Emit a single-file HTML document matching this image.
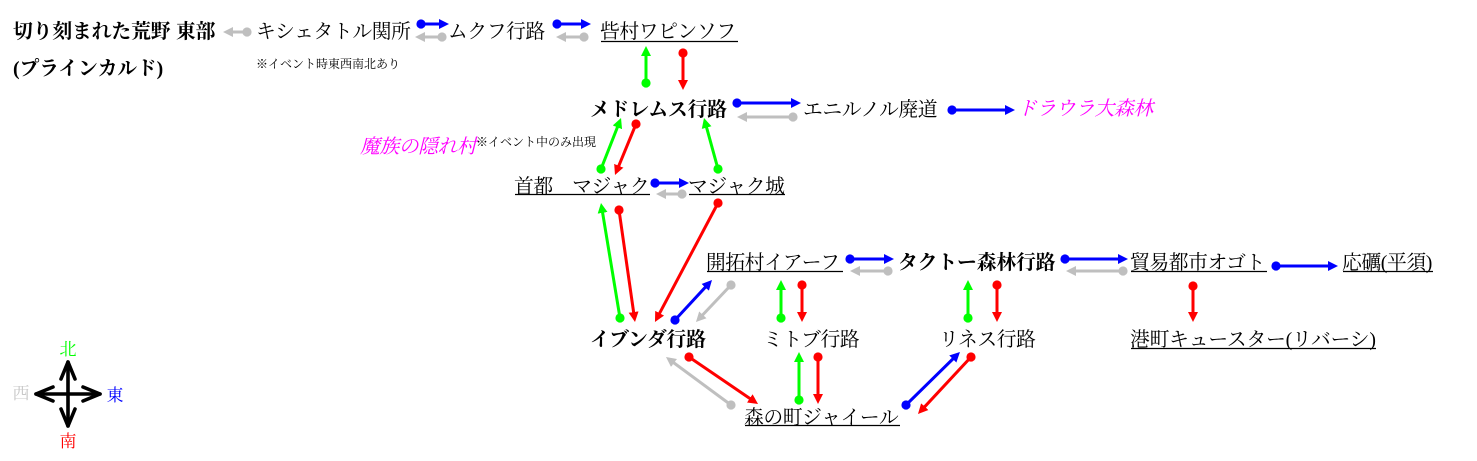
<!DOCTYPE html>
<html lang="ja"><head><meta charset="utf-8"><title>プラインカルド 東部</title>
<style>
html,body{margin:0;padding:0;background:#fff;width:1477px;height:461px;overflow:hidden}
svg{display:block}
text{font-family:"Liberation Serif","Noto Serif CJK SC","IPAGothic",serif;font-size:19.8px;letter-spacing:-.4px;fill:#000}
text.b{font-weight:bold;letter-spacing:-.1px}
text.s{font-size:12px;letter-spacing:0}
text.m{fill:#f0f;font-style:italic}
text.l{font-size:17px;letter-spacing:0}
.u line{stroke:#000;stroke-width:1.2}
line.B{stroke:#00f;marker-start:url(#cB);marker-end:url(#aB)}
line.G{stroke:#0f0;marker-start:url(#cG);marker-end:url(#aG)}
line.R{stroke:#f00;marker-start:url(#cR);marker-end:url(#aR)}
line.W{stroke:#bfbfbf;marker-start:url(#cW);marker-end:url(#aW)}
.ar line{stroke-width:3}
</style></head><body>
<svg width="1477" height="461" viewBox="0 0 1477 461" xmlns="http://www.w3.org/2000/svg">
<defs>
<marker id="aB" markerUnits="userSpaceOnUse" markerWidth="10" markerHeight="10" refX="5" refY="5" orient="auto"><path d="M0,0L10,5L0,10z" fill="#00f"/></marker>
<marker id="aG" markerUnits="userSpaceOnUse" markerWidth="10" markerHeight="10" refX="5" refY="5" orient="auto"><path d="M0,0L10,5L0,10z" fill="#0f0"/></marker>
<marker id="aR" markerUnits="userSpaceOnUse" markerWidth="10" markerHeight="10" refX="5" refY="5" orient="auto"><path d="M0,0L10,5L0,10z" fill="#f00"/></marker>
<marker id="aW" markerUnits="userSpaceOnUse" markerWidth="10" markerHeight="10" refX="5" refY="5" orient="auto"><path d="M0,0L10,5L0,10z" fill="#bfbfbf"/></marker>
<marker id="cB" markerUnits="userSpaceOnUse" markerWidth="10" markerHeight="10" refX="5" refY="5"><circle cx="5" cy="5" r="4.6" fill="#00f"/></marker>
<marker id="cG" markerUnits="userSpaceOnUse" markerWidth="10" markerHeight="10" refX="5" refY="5"><circle cx="5" cy="5" r="4.6" fill="#0f0"/></marker>
<marker id="cR" markerUnits="userSpaceOnUse" markerWidth="10" markerHeight="10" refX="5" refY="5"><circle cx="5" cy="5" r="4.6" fill="#f00"/></marker>
<marker id="cW" markerUnits="userSpaceOnUse" markerWidth="10" markerHeight="10" refX="5" refY="5"><circle cx="5" cy="5" r="4.6" fill="#bfbfbf"/></marker>
</defs>

<!-- labels -->
<g transform="translate(-1,0)">
<text class="b" x="14" y="38">切り刻まれた荒野</text>
<text class="b" x="177" y="38">東部</text>
<text class="b" x="14" y="75">(プラインカルド)</text>
<text x="257" y="38">キシェタトル関所</text>
<text class="s" x="257" y="68">※イベント時東西南北あり</text>
<text x="449" y="38">ムクフ行路</text>
<text x="601" y="38">呰村ワピンソフ</text>
<text class="b" x="591" y="116">メドレムス行路</text>
<text x="804" y="116">エニルノル廃道</text>
<text class="m" x="1018" y="115">ドラウラ大森林</text>
<text class="m" x="361" y="153">魔族の隠れ村</text>
<text class="s" x="477" y="146">※イベント中のみ出現</text>
<text x="515" y="193">首都　マジャク</text>
<text x="689" y="193">マジャク城</text>
<text x="707" y="269">開拓村イアーフ</text>
<text class="b" x="899" y="269">タクトー森林行路</text>
<text x="1131" y="269">貿易都市オゴト</text>
<text x="1343" y="269">応礪(平須)</text>
<text class="b" x="591" y="346">イブンダ行路</text>
<text x="764" y="346">ミトブ行路</text>
<text x="940" y="346">リネス行路</text>
<text x="1131" y="346" style="letter-spacing:-.2px">港町キュースター(リバーシ)</text>
<text x="745" y="424">森の町ジャイール</text>
</g>

<!-- underlines -->
<g class="u">
<line x1="601" y1="41.5" x2="738" y2="41.5"/>
<line x1="515" y1="194.5" x2="650" y2="194.5"/>
<line x1="689" y1="194.5" x2="785" y2="194.5"/>
<line x1="707" y1="271.5" x2="843" y2="271.5"/>
<line x1="1131" y1="271.5" x2="1267" y2="271.5"/>
<line x1="1343" y1="271.5" x2="1433" y2="271.5"/>
<line x1="1131" y1="348.5" x2="1376" y2="348.5"/>
<line x1="745" y1="425.5" x2="900" y2="425.5"/>
</g>

<!-- connectors -->
<g class="ar">
<line class="W" x1="247" y1="32" x2="228" y2="32"/>
<line class="B" x1="421" y1="24" x2="444" y2="24"/>
<line class="W" x1="442" y1="37" x2="420" y2="37"/>
<line class="B" x1="557" y1="24" x2="586" y2="24"/>
<line class="W" x1="584" y1="37" x2="561" y2="37"/>
<line class="G" x1="646" y1="83" x2="646" y2="51"/>
<line class="R" x1="683" y1="53" x2="683" y2="85"/>
<line class="B" x1="737" y1="103" x2="796" y2="103"/>
<line class="W" x1="793" y1="117" x2="742" y2="117"/>
<line class="B" x1="952" y1="110" x2="1010" y2="110"/>
<line class="G" x1="601" y1="169" x2="619.2" y2="122.7"/>
<line class="R" x1="636" y1="124" x2="616.9" y2="170.4"/>
<line class="G" x1="718" y1="169" x2="705.3" y2="122.8"/>
<line class="B" x1="655" y1="183" x2="684" y2="183"/>
<line class="W" x1="682" y1="194" x2="661" y2="194"/>
<line class="G" x1="620" y1="318" x2="601.8" y2="207.9"/>
<line class="R" x1="619" y1="210" x2="634.3" y2="317"/>
<line class="R" x1="718" y1="203" x2="657.3" y2="317.6"/>
<line class="B" x1="675" y1="320" x2="708.6" y2="283.7"/>
<line class="W" x1="731" y1="285" x2="699.4" y2="318.4"/>
<line class="G" x1="781" y1="318" x2="781" y2="285"/>
<line class="R" x1="802" y1="285" x2="802" y2="317"/>
<line class="G" x1="799" y1="400" x2="799" y2="357"/>
<line class="R" x1="818" y1="357" x2="818" y2="399"/>
<line class="R" x1="689" y1="357" x2="753.9" y2="401.2"/>
<line class="W" x1="731" y1="405" x2="670" y2="360"/>
<line class="B" x1="906" y1="405" x2="956.4" y2="355.5"/>
<line class="R" x1="971" y1="357" x2="921.4" y2="410.3"/>
<line class="G" x1="968" y1="318" x2="968" y2="285"/>
<line class="R" x1="997" y1="285" x2="997" y2="317"/>
<line class="B" x1="850" y1="259" x2="889" y2="259"/>
<line class="W" x1="888" y1="271" x2="855" y2="271"/>
<line class="B" x1="1065" y1="259" x2="1123" y2="259"/>
<line class="W" x1="1123" y1="271" x2="1071" y2="271"/>
<line class="B" x1="1276" y1="266" x2="1333" y2="266"/>
<line class="R" x1="1193" y1="286" x2="1193" y2="317"/>
</g>

<!-- compass -->
<g fill="none" stroke="#000" stroke-width="3.6" stroke-linecap="round" stroke-linejoin="round">
<path d="M68,362V426M36,394H100"/>
<path d="M61,379L68,362L75,379M61,409L68,426L75,409M53,387L36,394L53,401M83,387L100,394L83,401"/>
</g>
<text class="l" x="59.5" y="355" style="fill:#0f0">北</text>
<text class="l" x="12.5" y="399" style="fill:#c8c8c8">西</text>
<text class="l" x="106.5" y="401" style="fill:#00f">東</text>
<text class="l" x="59.5" y="447" style="fill:#f00">南</text>
</svg>
</body></html>
